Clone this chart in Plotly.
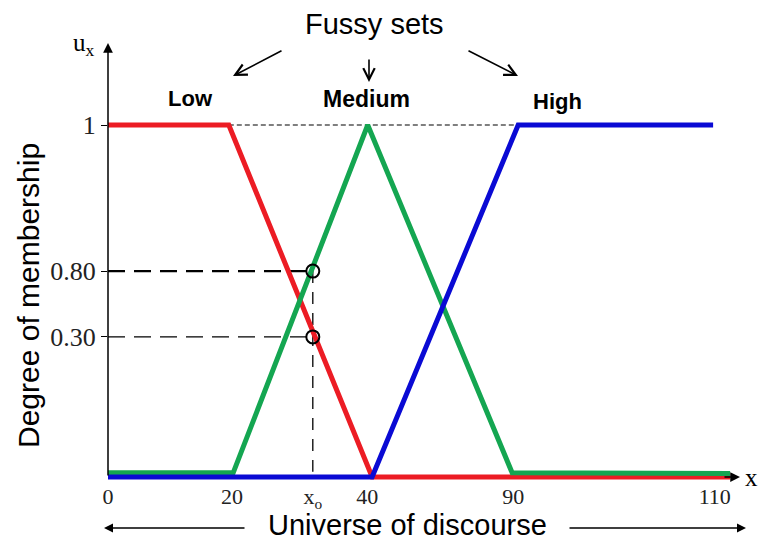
import plotly.graph_objects as go

# ---- data (axis units as drawn in the diagram; tick labels carry the nominal values)
x_tick_pos = [0, 22.6, 37.3, 47.2, 73.8, 110.5]
x_tick_text = ["0", "20", "x<sub>o</sub>", "40", "90", "110"]
y_tick_pos = [1.0, 0.585, 0.398]
y_tick_text = ["1", "0.80", "0.30"]

low_x = [0, 22.0, 48.1, 113.3]
low_y = [1, 1, 0, 0]
medium_x = [0, 22.8, 47.3, 73.6, 113.3]
medium_y = [0.012, 0.012, 1, 0.012, 0.01]
high_x = [0, 48.1, 74.7, 110.2]
high_y = [0, 0, 1, 1]

x0 = 37.3
mu_medium_x0 = 0.585   # 0.80
mu_low_x0 = 0.398      # 0.30

RED = "#ec1c24"
GREEN = "#14a651"
BLUE = "#0a0ad4"

L, R, T, B = 108, 18, 42, 62
W, H = 760 - L - R, 543 - T - B
PX_PER_X = 5.491
PX_PER_Y = 352.0
x_range = [0, W / PX_PER_X]
y_range = [-(H - 435) / PX_PER_Y, 435 / PX_PER_Y]


def dom(xp, yp):
    return (xp - L) / W, (T + H - yp) / H


fig = go.Figure()

# guide lines
fig.add_trace(go.Scatter(x=[low_x[1], high_x[2]], y=[1, 1], mode="lines",
                         line=dict(color="black", width=1.2, dash="5px,3px"), hoverinfo="skip"))
fig.add_trace(go.Scatter(x=[0, x0], y=[mu_medium_x0, mu_medium_x0], mode="lines",
                         line=dict(color="black", width=2.2, dash="17px,9px"), hoverinfo="skip"))
fig.add_trace(go.Scatter(x=[0, x0], y=[mu_low_x0, mu_low_x0], mode="lines",
                         line=dict(color="black", width=1.3, dash="17px,9px"), hoverinfo="skip"))
fig.add_trace(go.Scatter(x=[x0, x0], y=[mu_medium_x0, 0.015], mode="lines",
                         line=dict(color="black", width=1.3, dash="12px,9px"), hoverinfo="skip"))

# membership functions
fig.add_trace(go.Scatter(x=low_x, y=low_y, mode="lines", name="Low",
                         line=dict(color=RED, width=5)))
fig.add_trace(go.Scatter(x=medium_x, y=medium_y, mode="lines", name="Medium",
                         line=dict(color=GREEN, width=5)))
fig.add_trace(go.Scatter(x=high_x, y=high_y, mode="lines", name="High",
                         line=dict(color=BLUE, width=5)))

# intersection markers
fig.add_trace(go.Scatter(x=[x0, x0], y=[mu_medium_x0, mu_low_x0], mode="markers",
                         marker=dict(symbol="circle-open", size=13, color="black",
                                     line=dict(width=2, color="black")),
                         hoverinfo="skip"))

ann = []
# y axis with arrow
ann.append(dict(x=0, y=1.233, ax=0, ay=0, xref="x", yref="y", axref="x", ayref="y",
                text="", showarrow=True, arrowhead=2, arrowsize=1.3, arrowwidth=1.5,
                arrowcolor="black"))
# x axis arrow tip
ann.append(dict(x=115.1, y=0, ax=112.0, ay=0, xref="x", yref="y", axref="x", ayref="y",
                text="", showarrow=True, arrowhead=2, arrowsize=1.3, arrowwidth=1.5,
                arrowcolor="black"))

serif = "Liberation Serif"
sans = "Liberation Sans"


def text(xp, yp, s, size, family=sans, bold=False, angle=0, yanchor="middle"):
    px_, py_ = dom(xp, yp)
    if bold:
        s = "<b>" + s + "</b>"
    ann.append(dict(x=px_, y=py_, xref="x domain", yref="y domain", text=s, showarrow=False,
                    xanchor="center", yanchor=yanchor, textangle=angle, borderpad=0,
                    font=dict(family=family, size=size, color="black")))


def arrow(x1, y1, x2, y2, head=5, size=1.4, width=1.6):
    hx, hy = dom(x2, y2)
    tx, ty = dom(x1, y1)
    ann.append(dict(x=hx, y=hy, ax=tx, ay=ty, xref="x domain", yref="y domain",
                    axref="x domain", ayref="y domain", text="", showarrow=True,
                    arrowhead=head, arrowsize=size, arrowwidth=width, arrowcolor="black"))


text(374, 24, "Fussy sets", 29)
text(190, 98, "Low", 22, bold=True)
text(366, 99, "Medium", 23, bold=True)
text(557, 101, "High", 22, bold=True)
text(84, 44, "u<sub>x</sub>", 25, family=serif)
text(751, 477, "x", 25, family=serif)
text(28, 296, "Degree of membership", 30, angle=-90)
text(407, 542, "Universe of discourse", 29, yanchor="bottom")

arrow(283, 50, 233, 76)
arrow(369, 58, 369, 82)
arrow(467, 50, 518, 76)
arrow(246, 528, 104, 528, head=2, size=1.2, width=1.5)
arrow(568, 528, 746, 528, head=2, size=1.2, width=1.5)

fig.update_layout(
    width=760, height=543,
    margin=dict(l=L, r=R, t=T, b=B),
    plot_bgcolor="white", paper_bgcolor="white",
    showlegend=False,
    annotations=ann,
    xaxis=dict(range=x_range, showgrid=False, zeroline=False, showline=False,
               automargin=False,
               tickmode="array", tickvals=x_tick_pos, ticktext=x_tick_text, ticks="",
               tickfont=dict(family=serif, size=22, color="#222")),
    yaxis=dict(range=y_range, showgrid=False, zeroline=False, showline=False,
               automargin=False,
               tickmode="array", tickvals=y_tick_pos, ticktext=y_tick_text,
               ticks="outside", ticklen=6, tickwidth=1.3, tickcolor="black",
               tickfont=dict(family=serif, size=26, color="#222")),
)

fig.write_html("out.html", config={"displayModeBar": False},
               post_script="document.body.style.margin='0';document.body.style.overflow='hidden';")
